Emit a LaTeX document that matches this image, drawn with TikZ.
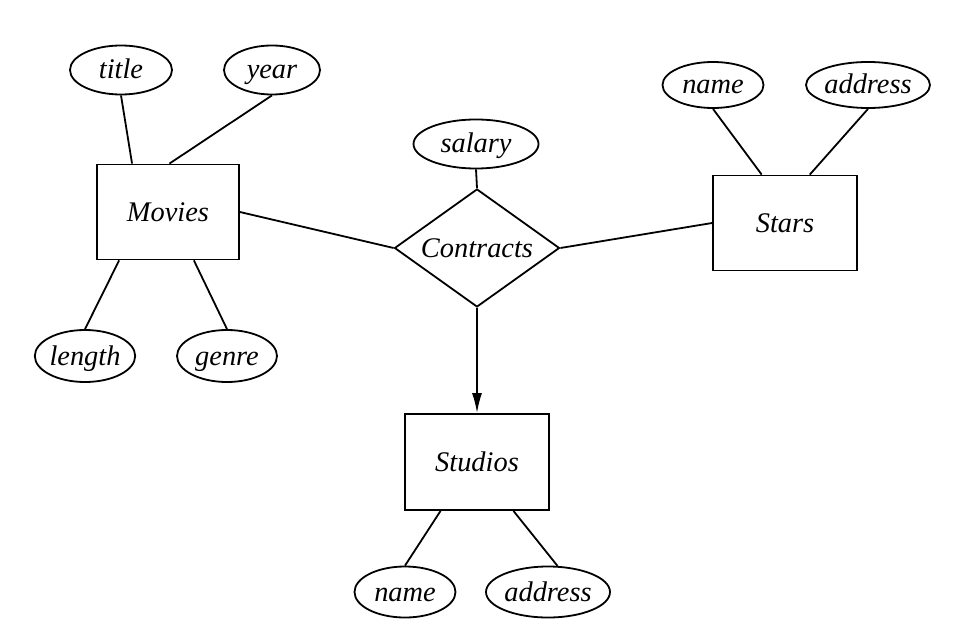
\documentclass[tikz,border=0pt]{standalone}
\usepackage{fontspec}
\setmainfont{Liberation Serif}
\usepackage{tikz}
\usetikzlibrary{positioning,arrows.meta,shapes.geometric,calc}

\begin{document}
\begin{tikzpicture}[x=0.5pt,y=-0.5pt,line width=0.9pt,
    every node/.style={font=\fontsize{14.2}{16}\selectfont\itshape,inner sep=0pt,
      text height=0.9em,text depth=0pt},
    entity/.style={draw,rectangle,minimum width=71pt,minimum height=47.5pt},
    attr/.style={draw,ellipse,minimum height=24.5pt},
    rel/.style={draw,diamond,aspect=1.4,minimum width=82.5pt,minimum height=59pt}]
  \useasboundingbox (0,0) rectangle (972,636);
  % entity sets and relationship
  \node[entity] (movies) at (168,212) {Movies};
  \node[entity,minimum width=72pt] (stars) at (785,223) {Stars};
  \node[entity,minimum width=72pt,minimum height=48pt] (studios) at (477,462) {Studios};
  \node[rel] (contracts) at (477,248) {Contracts};
  % attributes
  \node[attr,minimum width=51pt] (title) at (121,70) {title};
  \node[attr,minimum width=48pt] (year) at (272,70) {year};
  \node[attr,minimum width=50pt,minimum height=26pt] (length) at (85,356) {length};
  \node[attr,minimum width=50pt,minimum height=26pt] (genre) at (227,356) {genre};
  \node[attr,minimum width=62.5pt] (salary) at (476,144) {salary};
  \node[attr,minimum width=50.5pt,minimum height=23pt] (sname) at (713,85) {name};
  \node[attr,minimum width=62pt,minimum height=23pt] (saddr) at (868,85) {address};
  \node[attr,minimum width=50.5pt,minimum height=25.5pt] (stname) at (405,592) {name};
  \node[attr,minimum width=62pt,minimum height=25.5pt] (staddr) at (548,592) {address};
  % attribute links
  \draw (title.south) -- ($(movies.north west)!0.25!(movies.north east)$);
  \draw (year.south) -- ($(movies.north west)!0.51!(movies.north east)$);
  \draw (length.north) -- ($(movies.south west)!0.16!(movies.south east)$);
  \draw (genre.north) -- ($(movies.south west)!0.68!(movies.south east)$);
  \draw (sname.south) -- ($(stars.north west)!0.34!(stars.north east)$);
  \draw (saddr.south) -- ($(stars.north west)!0.67!(stars.north east)$);
  \draw (stname.north) -- ($(studios.south west)!0.25!(studios.south east)$);
  \draw (staddr.70) -- ($(studios.south west)!0.75!(studios.south east)$);
  \draw (salary.south) -- (contracts.north);
  % relationship links
  \draw (movies.east) -- (contracts.west);
  \draw (stars.west) -- (contracts.east);
  \draw[-{Latex[length=10pt,width=5pt]}] (contracts.south) -- (studios.north);
\end{tikzpicture}
\end{document}
